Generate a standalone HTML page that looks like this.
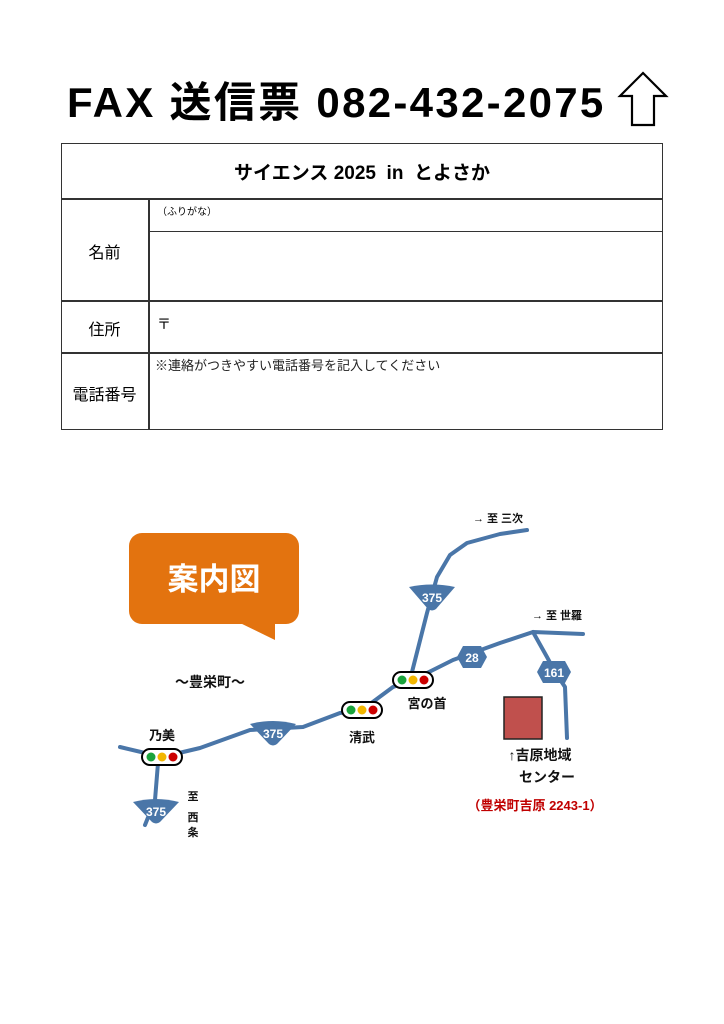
<!DOCTYPE html>
<html><head><meta charset="utf-8"><style>
body{margin:0;width:724px;height:1024px;background:#fff;position:relative;font-family:"Liberation Sans","Noto Sans CJK JP",sans-serif;overflow:hidden}
.a{position:absolute;white-space:nowrap}
.l{position:absolute;background:#333}
</style></head><body>
<div class="a" style="left:67px;top:69px;font-size:42px;font-weight:bold;letter-spacing:2.3px;color:#000">FAX 送信票 082-432-2075</div>
<svg class="a" style="left:615px;top:70px" width="54" height="58"><polygon points="28,3 51,26 39,26 39,55 17,55 17,26 5,26" fill="#fff" stroke="#000" stroke-width="2.2"/></svg>

<div class="a" style="left:61px;top:143px;width:600px;height:285px;border:1.5px solid #333"></div>
<div class="l" style="left:61px;top:198px;width:602px;height:1.5px"></div>
<div class="l" style="left:148px;top:231px;width:515px;height:1px"></div>
<div class="l" style="left:61px;top:300px;width:602px;height:1.5px"></div>
<div class="l" style="left:61px;top:352px;width:602px;height:1.5px"></div>
<div class="l" style="left:148px;top:198px;width:1.5px;height:232px"></div>
<div class="a" style="left:61px;top:158px;width:602px;text-align:center;font-size:19px;font-weight:bold">サイエンス 2025 &nbsp;in &nbsp;とよさか</div>
<div class="a" style="left:157px;top:203px;font-size:10px">（ふりがな）</div>
<div class="a" style="left:61px;top:239px;width:87px;text-align:center;font-size:16px">名前</div>
<div class="a" style="left:61px;top:316px;width:87px;text-align:center;font-size:16px">住所</div>
<div class="a" style="left:157px;top:314px;font-size:14px">〒</div>
<div class="a" style="left:61px;top:381px;width:87px;text-align:center;font-size:16px">電話番号</div>
<div class="a" style="left:155px;top:355px;font-size:13px;color:#222">※連絡がつきやすい電話番号を記入してください</div>

<svg class="a" style="left:0;top:0" width="724" height="1024" font-family="Liberation Sans,Noto Sans CJK JP,sans-serif">
<rect x="129" y="533" width="170" height="91" rx="13" fill="#e3730f"/>
<polygon points="238,622 275,622 275,640" fill="#e3730f"/>
<text x="214" y="590" font-size="31" font-weight="bold" fill="#fff" text-anchor="middle">案内図</text>
<g fill="none" stroke="#4a76a8" stroke-width="4" stroke-linecap="round" stroke-linejoin="round">
<path d="M120,747 L162,757 L200,748 L250,730 L303,727 L340,713 L362,710 L393,687 L413,680 L453,660 L500,643 L533,632 L583,634"/>
<path d="M412,672 L427,613 L437,577 L450,555 L467,543 L500,534 L527,530"/>
<path d="M533,632 L547,657 L555,672 L565,687 L567,738"/>
<path d="M158,763 L155,800 L145,825"/>
</g>
<g fill="#4a76a8">
<path d="M409,587 Q432,582 455,587 L436,609 Q432,612 428,609 Z"/>
<path d="M250,724 Q273,718 296,724 L277,744 Q273,747 269,744 Z"/>
<path d="M133,802 Q156,796 179,802 L160,822 Q156,825 152,822 Z"/>
<polygon points="457,657 463,646 481,646 487,657 481,668 463,668"/>
<polygon points="537,672 543,661 565,661 571,672 565,683 543,683"/>
</g>
<g fill="#fff" font-size="12" font-weight="bold" text-anchor="middle">
<text x="432" y="602">375</text><text x="273" y="738">375</text><text x="156" y="816">375</text>
<text x="472" y="662">28</text><text x="554" y="677">161</text>
</g>
<g>
<rect x="142" y="749" width="40" height="16" rx="8" fill="#fff" stroke="#000" stroke-width="2"/>
<circle cx="151" cy="757" r="4.5" fill="#1aa33c"/><circle cx="162" cy="757" r="4.5" fill="#f2b600"/><circle cx="173" cy="757" r="4.5" fill="#c00"/>
<rect x="342" y="702" width="40" height="16" rx="8" fill="#fff" stroke="#000" stroke-width="2"/>
<circle cx="351" cy="710" r="4.5" fill="#1aa33c"/><circle cx="362" cy="710" r="4.5" fill="#f2b600"/><circle cx="373" cy="710" r="4.5" fill="#c00"/>
<rect x="393" y="672" width="40" height="16" rx="8" fill="#fff" stroke="#000" stroke-width="2"/>
<circle cx="402" cy="680" r="4.5" fill="#1aa33c"/><circle cx="413" cy="680" r="4.5" fill="#f2b600"/><circle cx="424" cy="680" r="4.5" fill="#c00"/>
</g>
<rect x="504" y="697" width="38" height="42" fill="#c0504d" stroke="#222" stroke-width="1.5"/>
<g font-size="13" font-weight="bold" fill="#111" text-anchor="middle">
<text x="162" y="740">乃美</text>
<text x="362" y="742">清武</text>
<text x="427" y="708">宮の首</text>
<text x="210" y="687" font-size="14">～豊栄町～</text>
<text x="498" y="522" font-size="11">→ 至 三次</text>
<text x="557" y="619" font-size="11">→ 至 世羅</text>
<text x="193" y="800" font-size="11">至</text>
<text x="193" y="821" font-size="11">西</text>
<text x="193" y="836" font-size="11">条</text>
<text x="540" y="760" font-size="14">↑吉原地域</text>
<text x="547" y="782" font-size="14">センター</text>
<text x="535" y="810" font-size="13" fill="#c00000">（豊栄町吉原 2243-1）</text>
</g>
</svg>
</body></html>
